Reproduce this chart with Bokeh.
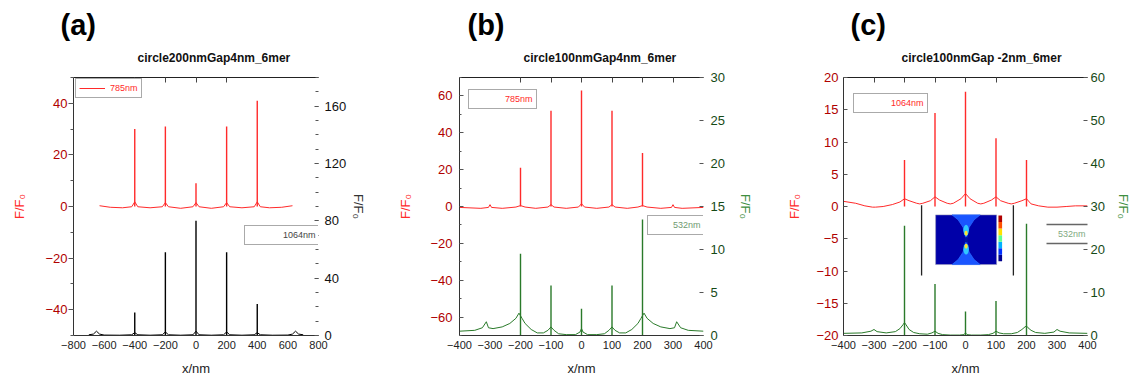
from bokeh.plotting import figure
from bokeh.models import (Range1d, LinearAxis, SingleIntervalTicker, FixedTicker,
                          Legend, LegendItem, Label, Arrow, Title)
from bokeh.layouts import row
from bokeh.embed import file_html
from bokeh.resources import INLINE

# ---------------- data ----------------
# panel (a): circle200nmGap4nm_6mer
a_red_x = [-630, -560, -480, -420, -400, -380, -300, -220, -200, -180, -100, -20, 0, 20,
           100, 180, 200, 220, 300, 380, 400, 420, 480, 560, 630]
a_red_y = [0.3, -0.3, -0.5, -0.1, 1.8, -0.1, -0.5, -0.1, 1.5, -0.1, -0.7, -0.1, 1.5, -0.1,
           -0.7, -0.1, 1.5, -0.1, -0.5, -0.1, 1.8, -0.1, -0.5, -0.3, 0.3]
a_red_pk_x = [-400, -200, 0, 200, 400]
a_red_pk_y = [30, 31, 9, 31, 41]
a_blk_x = [-700, -670, -650, -630, -600, -500, -420, -400, -380, -300, -220, -200, -180, -100,
           -20, 0, 20, 100, 180, 200, 220, 300, 380, 400, 420, 500, 600, 630, 650, 670, 700]
a_blk_y = [0.5, 1, 3, 1, 0.3, 0.2, 0.5, 2, 0.5, 0.2, 0.5, 2.5, 0.5, 0.2,
           0.5, 3, 0.5, 0.2, 0.5, 2.5, 0.5, 0.2, 0.5, 2, 0.5, 0.2, 0.3, 1, 3, 1, 0.5]
a_blk_pk_x = [-400, -200, 0, 200, 400]
a_blk_pk_y = [16, 58, 80, 58, 22]

# panel (b): circle100nmGap4nm_6mer
b_red_x = [-400, -330, -305, -300, -295, -260, -215, -200, -185, -150, -110, -100, -90, -50,
           -10, 0, 10, 50, 90, 100, 110, 150, 185, 200, 215, 260, 295, 300, 305, 330, 400]
b_red_y = [-0.5, -1, -0.5, 1, -0.5, -1, -0.3, 0.5, -0.3, -1, -0.3, 1, -0.3, -1,
           -0.3, 1.5, -0.3, -1, -0.3, 1, -0.3, -1, -0.3, 0.5, -0.3, -1, -0.5, 1, -0.5, -1, -0.5]
b_red_pk_x = [-200, -100, 0, 100, 200]
b_red_pk_y = [21, 52, 63, 52, 29]
b_grn_x = [-400, -350, -325, -312, -305, -290, -260, -235, -215, -205, -195, -185, -165, -145,
           -125, -110, -100, -90, -75, -50, -20, -5, 0, 5, 20, 50, 75, 90, 100, 110, 125, 145,
           165, 185, 195, 205, 215, 235, 260, 290, 305, 312, 325, 350, 400]
b_grn_y = [0.5, 0.6, 0.9, 1.6, 0.9, 0.8, 1.0, 1.4, 2.0, 2.6, 2.0, 1.4, 0.7, 0.3,
           0.3, 0.6, 1.0, 0.6, 0.2, 0.1, 0.1, 0.4, 0.8, 0.4, 0.1, 0.1, 0.2, 0.6, 1.0, 0.6, 0.3, 0.3,
           0.7, 1.4, 2.0, 2.6, 2.0, 1.4, 1.0, 0.8, 0.9, 1.6, 0.9, 0.6, 0.5]
b_grn_pk_x = [-200, -100, 0, 100, 200]
b_grn_pk_y = [9.5, 5.8, 3.1, 5.8, 13.5]

# panel (c): circle100nmGap -2nm_6mer
c_red_x = [-400, -360, -330, -305, -300, -295, -270, -240, -215, -200, -185, -160, -150, -140,
           -115, -100, -85, -60, -50, -40, -15, 0, 15, 40, 50, 60, 85, 100, 115, 140, 150, 160,
           185, 200, 215, 240, 270, 300, 330, 360, 400]
c_red_y = [0.8, 0.5, 0.1, -0.1, -0.1, -0.1, 0.0, 0.3, 0.7, 1.2, 0.9, 0.5, 0.4, 0.5,
           0.9, 1.5, 1.0, 0.5, 0.4, 0.5, 1.2, 2.0, 1.2, 0.5, 0.4, 0.5, 1.0, 1.5, 0.9, 0.5, 0.4, 0.5,
           0.9, 1.2, 0.4, 0.1, -0.1, -0.1, 0.0, 0.1, 0.1]
c_red_pk_x = [-200, -100, 0, 100, 200]
c_red_pk_y = [7.2, 14.5, 17.8, 10.6, 7.2]
c_grn_x = [-400, -340, -310, -300, -290, -260, -230, -215, -205, -200, -195, -185, -170, -150,
           -125, -110, -100, -90, -75, -50, -20, -5, 0, 5, 20, 50, 75, 90, 100, 110, 125, 150,
           170, 185, 195, 200, 205, 215, 230, 260, 290, 300, 310, 340, 400]
c_grn_y = [0.5, 0.6, 1.0, 1.4, 0.9, 0.6, 0.9, 1.6, 2.5, 3.0, 2.5, 1.4, 0.7, 0.4,
           0.3, 0.6, 1.0, 0.5, 0.2, 0.1, 0.1, 0.2, 0.6, 0.2, 0.1, 0.1, 0.2, 0.5, 1.0, 0.6, 0.4, 0.4,
           0.7, 1.4, 2.0, 2.2, 1.8, 1.2, 0.7, 0.5, 0.8, 1.4, 1.0, 0.6, 0.5]
c_grn_pk_x = [-200, -100, 0, 100, 200]
c_grn_pk_y = [25.5, 12, 5.6, 8, 26]

a_top_ticks = [-400, -200, 0, 200]
b_top_ticks = [-200, -100, 0, 100, 200, 300]
c_top_ticks = [-300, -200, -100, 0, 100]

titles = ["circle200nmGap4nm_6mer", "circle100nmGap4nm_6mer", "circle100nmGap -2nm_6mer"]
panel_tags = ["(a)", "(b)", "(c)"]

# ---------------- style ----------------
FONT = "Liberation Sans"
RED = "#ff2a2a"
DKRED = "#b00000"
GREEN = "#2a7a2a"
DKGREEN = "#164a16"
LBL_GREEN = "#3f8f3f"
YLAB = "F/F\u2080"
H = 380
TOP = 77
BOTTOM = 45


def base_fig(width, bl, br, xr, yl, yr, tag, tag_off, title, title_off):
    p = figure(width=width, height=H, x_range=Range1d(*xr), y_range=Range1d(*yl),
               output_backend="svg", toolbar_location=None, tools="", title=tag,
               min_border_left=bl, min_border_right=br, min_border_top=TOP,
               min_border_bottom=BOTTOM)
    p.extra_y_ranges = {"right": Range1d(*yr)}
    p.grid.visible = False
    p.outline_line_color = None
    p.title.text_font = FONT
    p.title.text_font_size = "29px"
    p.title.text_font_style = "bold"
    p.title.text_color = "black"
    p.title.align = "left"
    p.title.offset = tag_off
    p.title.vertical_align = "bottom"
    p.title.standoff = 0
    p._title_text = title
    p._title_off = title_off
    return p


def style_axes(p, xint, lint, lminor, rint, rminor, top_ticks, left_cfg, right_cfg,
               right_tick_color, right_label_color):
    xa = p.xaxis[0]
    xa.ticker = SingleIntervalTicker(interval=xint, num_minor_ticks=0)
    xa.major_tick_in = 0
    xa.major_tick_out = 0
    xa.minor_tick_in = 0
    xa.minor_tick_out = 0
    xa.axis_line_color = "#333333"
    xa.major_label_text_font = FONT
    xa.major_label_text_font_size = "11px"
    xa.major_label_text_color = "#222222"
    xa.major_label_standoff = 5
    xa.axis_label = "x/nm"
    xa.axis_label_text_font = FONT
    xa.axis_label_text_font_size = "13px"
    xa.axis_label_text_font_style = "normal"
    xa.axis_label_text_color = "#222222"
    xa.axis_label_standoff = 9

    ya = p.yaxis[0]
    ya.ticker = SingleIntervalTicker(interval=lint, num_minor_ticks=lminor)
    ya.axis_line_color = "#333333"
    ya.major_tick_line_color = "#555555"
    ya.minor_tick_line_color = "#555555"
    ya.major_tick_in, ya.major_tick_out, ya.minor_tick_in, ya.minor_tick_out = left_cfg[0]
    ya.major_label_standoff = left_cfg[1]
    ya.major_label_text_font = FONT
    ya.major_label_text_font_size = "13px"
    ya.major_label_text_color = DKRED
    ya.axis_label = YLAB
    ya.axis_label_text_font = FONT
    ya.axis_label_text_font_size = "13px"
    ya.axis_label_text_font_style = "normal"
    ya.axis_label_text_color = RED
    ya.axis_label_standoff = left_cfg[2]

    ra = LinearAxis(y_range_name="right",
                    ticker=SingleIntervalTicker(interval=rint, num_minor_ticks=rminor))
    ra.axis_line_color = None
    ra.major_tick_line_color = "#555555"
    ra.minor_tick_line_color = "#555555"
    ra.major_tick_in = 4
    ra.major_tick_out = 0
    ra.minor_tick_in = 3 if rminor else 0
    ra.minor_tick_out = 0
    ra.major_label_standoff = right_cfg[0]
    ra.major_label_text_font = FONT
    ra.major_label_text_font_size = "13px"
    ra.major_label_text_color = right_tick_color
    ra.axis_label = YLAB
    ra.axis_label_text_font = FONT
    ra.axis_label_text_font_size = "13px"
    ra.axis_label_text_font_style = "normal"
    ra.axis_label_text_color = right_label_color
    ra.axis_label_standoff = right_cfg[1]
    p.add_layout(ra, "right")

    ta = LinearAxis(ticker=FixedTicker(ticks=top_ticks, minor_ticks=[]))
    ta.major_label_text_alpha = 0
    ta.major_label_text_font_size = "0px"
    ta.major_label_standoff = 0
    ta.major_tick_in = 5
    ta.major_tick_out = 0
    ta.minor_tick_in = 0
    ta.minor_tick_out = 0
    ta.axis_line_color = "#222222"
    ta.major_tick_line_color = "#444444"
    p.add_layout(ta, "above")

    st = Title(text=p._title_text, align="left", offset=p._title_off, text_font=FONT,
               text_font_size="12px", text_font_style="bold", text_color="#111111",
               vertical_align="top", standoff=21)
    p.add_layout(st, "above")


def box_legend(p, text, color, renderer, glyph_w, loc):
    leg = Legend(items=[LegendItem(label=text, renderers=[renderer])], location=loc,
                 padding=3, margin=0, spacing=0, label_standoff=5,
                 glyph_width=glyph_w, glyph_height=12, label_height=12, label_width=10,
                 label_text_font=FONT, label_text_font_size="9px", label_text_color=color,
                 border_line_color="#555555", border_line_width=1.3,
                 background_fill_color="white", background_fill_alpha=1.0)
    p.add_layout(leg)


# ---------------- panel (a) ----------------
pa = base_fig(386, 73, 68, (-800, 800), (-50, 50), (0, 180),
              panel_tags[0], -13, titles[0], 64)
style_axes(pa, 200, 20, 2, 40, 4, a_top_ticks,
           left_cfg=((0, 5, 0, 3), 1, 15), right_cfg=(6, 2),
           right_tick_color="#111111", right_label_color="#333333")
ra_line = pa.line(a_red_x, a_red_y, line_color=RED, line_width=1)
pa.segment(x0=a_red_pk_x, y0=[0] * len(a_red_pk_x), x1=a_red_pk_x, y1=a_red_pk_y,
           line_color=RED, line_width=1.4)
pa.line(a_blk_x, a_blk_y, line_color="black", line_width=1, y_range_name="right")
pa.segment(x0=a_blk_pk_x, y0=[0] * len(a_blk_pk_x), x1=a_blk_pk_x, y1=a_blk_pk_y,
           line_color="black", line_width=1.4, y_range_name="right")
dummy_a = pa.line([0, 0], [0, 0], line_alpha=0)
box_legend(pa, "785nm", RED, ra_line, 26, (2, 237))
box_legend(pa, "1064nm", "#444444", dummy_a, 30, (171, 90))

# ---------------- panel (b) ----------------
pb = base_fig(382, 73, 65, (-400, 400), (-70, 70), (0, 30),
              panel_tags[1], 8, titles[1], 64)
style_axes(pb, 100, 20, 2, 5, 0, b_top_ticks,
           left_cfg=((4, 0, 2, 0), 7, 14), right_cfg=(7, 10),
           right_tick_color=DKGREEN, right_label_color=LBL_GREEN)
pb.line(b_red_x, b_red_y, line_color=RED, line_width=1)
pb.segment(x0=b_red_pk_x, y0=[0] * len(b_red_pk_x), x1=b_red_pk_x, y1=b_red_pk_y,
           line_color=RED, line_width=1.4)
pb.line(b_grn_x, b_grn_y, line_color=GREEN, line_width=1, y_range_name="right")
pb.segment(x0=b_grn_pk_x, y0=[0] * len(b_grn_pk_x), x1=b_grn_pk_x, y1=b_grn_pk_y,
           line_color=GREEN, line_width=1.4, y_range_name="right")
dummy_b = pb.line([0, 0], [0, 0], line_alpha=0)
box_legend(pb, "785nm", RED, dummy_b, 28, (9, 226))
box_legend(pb, "532nm", "#6f9a6f", dummy_b, 17, (188, 100))

# ---------------- panel (c) ----------------
pc = base_fig(367, 75, 48, (-400, 400), (-20, 20), (0, 60),
              panel_tags[2], 7, titles[2], 58)
style_axes(pc, 100, 5, 0, 10, 0, c_top_ticks,
           left_cfg=((4, 0, 0, 0), 5, 11), right_cfg=(3, 8),
           right_tick_color=DKGREEN, right_label_color=LBL_GREEN)

# inset field map (decoration), in left-axis units
IX0, IX1, IY0, IY1 = -98, 102, -9.0, -1.3
IW, IH = IX1 - IX0, IY1 - IY0
HG_V = [1, 0.9, 0.75, 0.6, 0.5, 0.4, 0.25, 0.1, 0]
HG_U = [0.27, 0.37, 0.45, 0.485, 0.495, 0.485, 0.45, 0.37, 0.27]
hg_x = [IX0 + u * IW for u in HG_U] + [IX0 + (1 - u) * IW for u in reversed(HG_U)]
hg_y = [IY0 + v * IH for v in HG_V] + [IY0 + v * IH for v in reversed(HG_V)]
pc.segment(x0=[-144, 157], y0=[0.2, 0.2], x1=[-144, 157], y1=[-10.7, -10.7],
           line_color="#222222", line_width=1.3)
pc.quad(left=IX0, right=IX1, bottom=IY0, top=IY1, fill_color="#0000a8",
        line_color="#9999bb", line_width=0.6)
pc.patch(hg_x, hg_y, fill_color="#1a55ff", line_color="#2a6aff", line_width=0.8)
cx = IX0 + 0.5 * IW
pc.ellipse(x=[cx, cx], y=[IY0 + 0.69 * IH, IY0 + 0.31 * IH], width=0.09 * IW, height=0.22 * IH,
           fill_color="#30c8ff", line_color=None)
pc.ellipse(x=[cx, cx], y=[IY0 + 0.63 * IH, IY0 + 0.37 * IH], width=0.05 * IW, height=0.1 * IH,
           fill_color="#ffe030", line_color=None)
pc.ellipse(x=[cx], y=[IY0 + 0.5 * IH], width=0.05 * IW, height=0.12 * IH,
           fill_color="#0010a0", line_color=None)
CB_COLORS = ["#00008f", "#0030ff", "#00b0ff", "#60ff90", "#ffe000", "#ff5000", "#b00000"]
cb_h = (IY1 - 0.1 - (IY0 + 0.5)) / len(CB_COLORS)
cb_b = [IY0 + 0.5 + i * cb_h for i in range(len(CB_COLORS))]
pc.quad(left=108, right=120, bottom=cb_b, top=[b + cb_h for b in cb_b], fill_color=CB_COLORS,
        line_color=None)

pc.line(c_red_x, c_red_y, line_color=RED, line_width=1)
pc.segment(x0=c_red_pk_x, y0=[0] * len(c_red_pk_x), x1=c_red_pk_x, y1=c_red_pk_y,
           line_color=RED, line_width=1.4)
pc.line(c_grn_x, c_grn_y, line_color=GREEN, line_width=1, y_range_name="right")
pc.segment(x0=c_grn_pk_x, y0=[0] * len(c_grn_pk_x), x1=c_grn_pk_x, y1=c_grn_pk_y,
           line_color=GREEN, line_width=1.4, y_range_name="right")
dummy_c = pc.line([0, 0], [0, 0], line_alpha=0)
box_legend(pc, "1064nm", RED, dummy_c, 29, (10, 222))
for yy in (111, 92):
    pc.add_layout(Arrow(start=None, end=None, x_start=203, y_start=yy, x_end=260, y_end=yy,
                        start_units="screen", end_units="screen",
                        line_color="#666666", line_width=1.5))
pc.add_layout(Label(x=242, y=102, x_units="screen", y_units="screen", text="532nm",
                    text_font=FONT, text_font_size="9px", text_color="#7faa7f",
                    text_align="right", text_baseline="middle"))

layout = row(pa, pb, pc)
open("out.html", "w").write(file_html(layout, INLINE))
